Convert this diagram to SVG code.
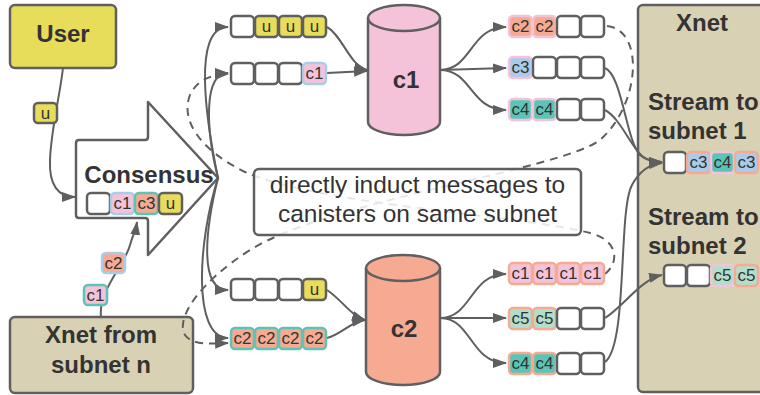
<svg xmlns="http://www.w3.org/2000/svg" width="760" height="395" viewBox="0 0 760 395">
<defs>
<marker id="ah" viewBox="0 0 14 10" refX="13" refY="5" markerWidth="14" markerHeight="10" markerUnits="userSpaceOnUse" orient="auto"><path d="M0,0 L14,5 L0,10 Z" fill="#5f5f5f"/></marker>
<style>
.n{stroke:#5f5f5f;stroke-width:2.5}
.t{font-family:"Liberation Sans",Arial,sans-serif;fill:#333}
.b{font-weight:bold;font-size:24px}
.ct{font-size:17px;text-anchor:middle}
.c{fill:none;stroke:#5f5f5f;stroke-width:2;marker-end:url(#ah)}
.d{stroke-dasharray:8 6}
.cell{stroke-width:2.5}
.W{fill:#fff;stroke:#5f5f5f}
.fy{fill:#e8dc5b}.fp{fill:#f5c3d9}.fs{fill:#f5aa91}.fb{fill:#a9cde9}.ft{fill:#5cc4b6}.fm{fill:#b2dfcb}
.sg{stroke:#5f5f5f}.sp{stroke:#f5c3d9}.ss{stroke:#f5aa91}.sb{stroke:#a9cde9}.st{stroke:#5cc4b6}
</style>
</defs>

<g id="user"><rect class="n" x="10" y="5" width="106" height="63" rx="5" fill="#e8dc5b"/><text class="t b" x="63" y="42" text-anchor="middle">User</text></g>

<g id="consensus"><path class="n" fill="#fff" stroke-linejoin="round" d="M76,143 Q76,140 79,140 L145,140 Q148,140 148,137 L148,102 L218,178 L148,255 L148,221 Q148,218 145,218 L79,218 Q76,218 76,215 Z"/><text class="t b" x="149" y="183" text-anchor="middle">Consensus</text></g>

<g id="xnet-from"><rect class="n" x="10" y="317" width="183" height="76" rx="5" fill="#d8d1b3"/><text class="t b" x="101" y="343" text-anchor="middle">Xnet from</text><text class="t b" x="101" y="373" text-anchor="middle">subnet n</text></g>

<g id="xnet"><rect class="n" x="638" y="5" width="140" height="387" rx="5" fill="#d8d1b3"/><text class="t b" x="702" y="31" text-anchor="middle">Xnet</text><text class="t b" x="648" y="110">Stream to</text><text class="t b" x="648" y="139">subnet 1</text><text class="t b" x="648" y="225">Stream to</text><text class="t b" x="648" y="254">subnet 2</text></g>

<g id="c1"><path class="n" fill="#f5c3d9" d="M368,18 V122 A36,13 0 0 0 440,122 V18"/><ellipse class="n" cx="404" cy="18" rx="36" ry="13" fill="#f5c3d9"/><text class="t b" x="406" y="88" text-anchor="middle">c1</text></g>

<g id="c2"><path class="n" fill="#f5aa91" d="M366,268 V372 A37,13 0 0 0 440,372 V268"/><ellipse class="n" cx="403" cy="268" rx="37" ry="13" fill="#f5aa91"/><text class="t b" x="404" y="337" text-anchor="middle">c2</text></g>

<g id="connectors">
<path class="c" d="M63,68 C60,95 51,130 50,160 C49,185 58,197 75,197"/>
<path class="c" d="M101,317 C98,290 125,265 130,245 C133,235 136,229 137,222"/>
<path class="c" d="M218,178 C206,120 192,27 228,27"/>
<path class="c" d="M218,178 C206,130 203,73 228,73"/>
<path class="c" d="M218,178 C204,235 200,290 228,290"/>
<path class="c" d="M218,178 C198,240 192,338 228,338"/>
<path class="c" d="M327,27 C342,35 350,66 367,70"/>
<path class="c" d="M327,73 L367,71"/>
<path class="c" d="M327,290 C342,300 350,315 365,320"/>
<path class="c" d="M327,338 C342,334 350,322 365,320"/>
<path class="c" d="M440,70 C472,70 470,27 506,27"/>
<path class="c" d="M440,70 L506,68"/>
<path class="c" d="M440,70 C472,70 470,110 506,110"/>
<path class="c" d="M440,318 C472,318 470,274 506,274"/>
<path class="c" d="M440,318 L506,318"/>
<path class="c" d="M440,318 C472,318 470,363 506,363"/>
<path class="c" d="M605,68 C622,75 626,140 640,155 C647,161 654,162 662,162"/>
<path class="c" d="M605,110 C620,118 630,145 642,156 C648,161 654,162 662,162"/>
<path class="c" d="M605,362 C628,345 618,210 632,185 C640,170 650,164 662,163"/>
<path class="c" d="M605,318 C625,305 640,280 662,275"/>
<path class="c d" d="M607,26 C645,30 640,105 600,140 C560,170 330,200 250,250 C200,282 175,318 185,335 C192,345 210,344 228,343"/>
<path class="c d" d="M605,274 C620,262 618,240 590,233 C520,215 320,205 245,172 C200,150 180,120 190,95 C197,80 210,75 228,74"/>
</g>

<g id="note"><rect class="n" x="254" y="169" width="327" height="66" rx="5" fill="#fff" fill-opacity="0.85"/><text class="t" x="417.5" y="193" font-size="24.5" text-anchor="middle">directly induct messages to</text><text class="t" x="417.5" y="222" font-size="24.5" text-anchor="middle">canisters on same subnet</text></g>

<g id="msg-u"><rect class="cell fy sg" x="34" y="103" width="23" height="20" rx="4"/><text class="t ct" x="45.5" y="119">u</text></g>
<g id="msg-c2"><rect class="cell fs sb" x="102" y="253" width="23" height="20" rx="4"/><text class="t ct" x="113.5" y="269">c2</text></g>
<g id="msg-c1"><rect class="cell fp st" x="84" y="285" width="23" height="20" rx="4"/><text class="t ct" x="95.5" y="301">c1</text></g>

<g id="q-consensus" transform="translate(87,193)"><rect class="cell W" x="0" y="0" width="23" height="21" rx="4"/><rect class="cell fp sb" x="24" y="0" width="23" height="21" rx="4"/><text class="t ct" x="35.5" y="16">c1</text><rect class="cell fs st" x="48" y="0" width="23" height="21" rx="4"/><text class="t ct" x="59.5" y="16">c3</text><rect class="cell fy sg" x="72" y="0" width="23" height="21" rx="4"/><text class="t ct" x="83.5" y="16">u</text></g>

<g id="q-c1-in1" transform="translate(231,16)"><rect class="cell W" x="0" y="0" width="23" height="21" rx="4"/><rect class="cell fy sg" x="24" y="0" width="23" height="21" rx="4"/><text class="t ct" x="35.5" y="16">u</text><rect class="cell fy sg" x="48" y="0" width="23" height="21" rx="4"/><text class="t ct" x="59.5" y="16">u</text><rect class="cell fy sg" x="72" y="0" width="23" height="21" rx="4"/><text class="t ct" x="83.5" y="16">u</text></g>

<g id="q-c1-in2" transform="translate(231,63)"><rect class="cell W" x="0" y="0" width="23" height="21" rx="4"/><rect class="cell W" x="24" y="0" width="23" height="21" rx="4"/><rect class="cell W" x="48" y="0" width="23" height="21" rx="4"/><rect class="cell fp sb" x="72" y="0" width="23" height="21" rx="4"/><text class="t ct" x="83.5" y="16">c1</text></g>

<g id="q-c2-in1" transform="translate(231,279)"><rect class="cell W" x="0" y="0" width="23" height="21" rx="4"/><rect class="cell W" x="24" y="0" width="23" height="21" rx="4"/><rect class="cell W" x="48" y="0" width="23" height="21" rx="4"/><rect class="cell fy sg" x="72" y="0" width="23" height="21" rx="4"/><text class="t ct" x="83.5" y="16">u</text></g>

<g id="q-c2-in2" transform="translate(231,328)"><rect class="cell fs st" x="0" y="0" width="23" height="21" rx="4"/><text class="t ct" x="11.5" y="16">c2</text><rect class="cell fs st" x="24" y="0" width="23" height="21" rx="4"/><text class="t ct" x="35.5" y="16">c2</text><rect class="cell fs st" x="48" y="0" width="23" height="21" rx="4"/><text class="t ct" x="59.5" y="16">c2</text><rect class="cell fs st" x="72" y="0" width="23" height="21" rx="4"/><text class="t ct" x="83.5" y="16">c2</text></g>

<g id="q-c1-out1" transform="translate(509,16)"><rect class="cell fs sp" x="0" y="0" width="23" height="21" rx="4"/><text class="t ct" x="11.5" y="16">c2</text><rect class="cell fs sp" x="24" y="0" width="23" height="21" rx="4"/><text class="t ct" x="35.5" y="16">c2</text><rect class="cell W" x="48" y="0" width="23" height="21" rx="4"/><rect class="cell W" x="72" y="0" width="23" height="21" rx="4"/></g>

<g id="q-c1-out2" transform="translate(509,57)"><rect class="cell fb sp" x="0" y="0" width="23" height="21" rx="4"/><text class="t ct" x="11.5" y="16">c3</text><rect class="cell W" x="24" y="0" width="23" height="21" rx="4"/><rect class="cell W" x="48" y="0" width="23" height="21" rx="4"/><rect class="cell W" x="72" y="0" width="23" height="21" rx="4"/></g>

<g id="q-c1-out3" transform="translate(509,99)"><rect class="cell ft sp" x="0" y="0" width="23" height="21" rx="4"/><text class="t ct" x="11.5" y="16">c4</text><rect class="cell ft sp" x="24" y="0" width="23" height="21" rx="4"/><text class="t ct" x="35.5" y="16">c4</text><rect class="cell W" x="48" y="0" width="23" height="21" rx="4"/><rect class="cell W" x="72" y="0" width="23" height="21" rx="4"/></g>

<g id="q-c2-out1" transform="translate(509,263)"><rect class="cell fp ss" x="0" y="0" width="23" height="21" rx="4"/><text class="t ct" x="11.5" y="16">c1</text><rect class="cell fp ss" x="24" y="0" width="23" height="21" rx="4"/><text class="t ct" x="35.5" y="16">c1</text><rect class="cell fp ss" x="48" y="0" width="23" height="21" rx="4"/><text class="t ct" x="59.5" y="16">c1</text><rect class="cell fp ss" x="72" y="0" width="23" height="21" rx="4"/><text class="t ct" x="83.5" y="16">c1</text></g>

<g id="q-c2-out2" transform="translate(509,308)"><rect class="cell fm ss" x="0" y="0" width="23" height="21" rx="4"/><text class="t ct" x="11.5" y="16">c5</text><rect class="cell fm ss" x="24" y="0" width="23" height="21" rx="4"/><text class="t ct" x="35.5" y="16">c5</text><rect class="cell W" x="48" y="0" width="23" height="21" rx="4"/><rect class="cell W" x="72" y="0" width="23" height="21" rx="4"/></g>

<g id="q-c2-out3" transform="translate(509,353)"><rect class="cell ft ss" x="0" y="0" width="23" height="21" rx="4"/><text class="t ct" x="11.5" y="16">c4</text><rect class="cell ft ss" x="24" y="0" width="23" height="21" rx="4"/><text class="t ct" x="35.5" y="16">c4</text><rect class="cell W" x="48" y="0" width="23" height="21" rx="4"/><rect class="cell W" x="72" y="0" width="23" height="21" rx="4"/></g>

<g id="stream1" transform="translate(664,152)"><rect class="cell W" x="0" y="0" width="22" height="21" rx="4"/><rect class="cell fb ss" x="23" y="0" width="23" height="21" rx="4"/><text class="t ct" x="34.5" y="16">c3</text><rect class="cell ft sp" x="47" y="0" width="23" height="21" rx="4"/><text class="t ct" x="58.5" y="16">c4</text><rect class="cell fb ss" x="71" y="0" width="23" height="21" rx="4"/><text class="t ct" x="82.5" y="16">c3</text></g>

<g id="stream2" transform="translate(664,265)"><rect class="cell W" x="0" y="0" width="22" height="21" rx="4"/><rect class="cell W" x="23" y="0" width="23" height="21" rx="4"/><rect class="cell fm sp" x="47" y="0" width="23" height="21" rx="4"/><text class="t ct" x="58.5" y="16">c5</text><rect class="cell fm ss" x="71" y="0" width="23" height="21" rx="4"/><text class="t ct" x="82.5" y="16">c5</text></g>
</svg>
